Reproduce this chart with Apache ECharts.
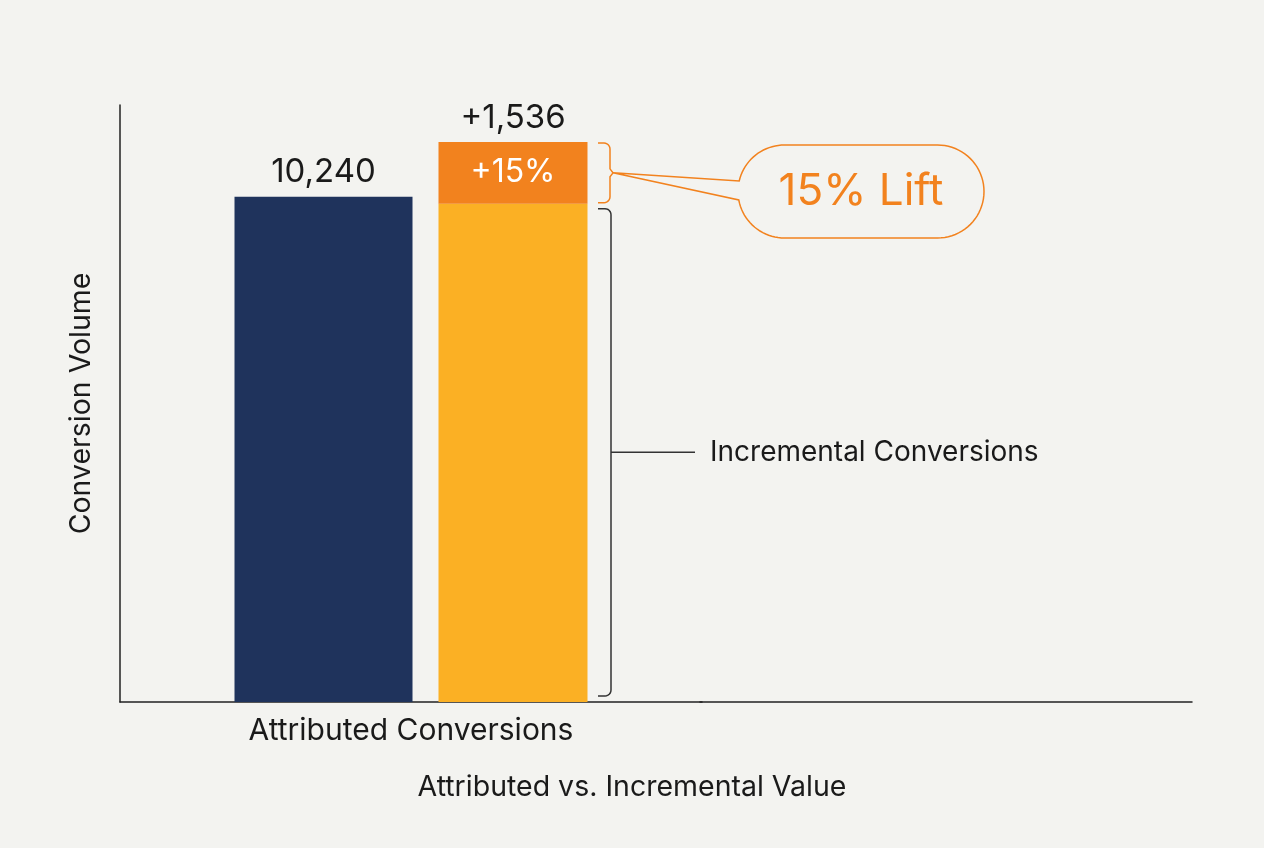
<!DOCTYPE html>
<html>
<head>
<meta charset="utf-8">
<script src="https://cdn.jsdelivr.net/npm/echarts@6/dist/echarts.min.js"></script>
<style>
  html, body { margin: 0; padding: 0; background: #f3f3f0; }
  #chart { width: 1264px; height: 848px; }
</style>
</head>
<body>
<div id="chart"></div>
<script>
// values
const categories = ['Attributed Conversions']
const attributedValues = [10240]
const incrementalBase = [10100]
const liftValues = [1250]
const attributedLabels = ['10,240']
const liftLabels = ['+15%']
const liftTotalLabels = ['+1,536']

const navy = '#1f335c'
const yellow = '#fbb024'
const orange = '#f2821e'
const ink = '#1a1a1a'
const font = 'Inter, Roboto, sans-serif'

const chart = echarts.init(document.getElementById('chart'))

const option = {
  animation: false,
  backgroundColor: '#f3f3f0',
  title: {
    text: 'Attributed vs. Incremental Value',
    left: 'center',
    top: 768,
    textStyle: { color: ink, fontSize: 28.5, fontWeight: 'normal', fontFamily: font }
  },
  grid: [
    { left: 120, top: 105, width: 582, height: 597 },
    { left: 700, top: 105, width: 492, height: 597 }
  ],
  xAxis: [
    {
      type: 'category',
      gridIndex: 0,
      data: categories,
      axisLine: { lineStyle: { color: '#222', width: 1.5 } },
      axisTick: { show: false },
      axisLabel: { color: ink, fontSize: 30, fontFamily: font, margin: 14 }
    },
    {
      type: 'category',
      gridIndex: 1,
      data: [''],
      axisLine: { lineStyle: { color: '#222', width: 1.5 } },
      axisTick: { show: false },
      axisLabel: { show: false }
    }
  ],
  yAxis: [
    {
      type: 'value',
      gridIndex: 0,
      min: 0,
      max: 12100,
      name: 'Conversion Volume',
      nameLocation: 'middle',
      nameGap: 24,
      nameTextStyle: { color: ink, fontSize: 28.5, fontFamily: font },
      axisLine: { show: true, lineStyle: { color: '#222', width: 1.5 } },
      axisTick: { show: false },
      axisLabel: { show: false },
      splitLine: { show: false }
    },
    { type: 'value', gridIndex: 1, show: false, min: 0, max: 12100 }
  ],
  series: [
    {
      name: 'Attributed',
      type: 'bar',
      data: attributedValues,
      barWidth: 178,
      barGap: '14.6%',
      itemStyle: { color: navy },
      label: {
        show: true,
        position: 'top',
        distance: 8,
        formatter: (p) => attributedLabels[p.dataIndex],
        color: ink,
        fontSize: 33,
        fontFamily: font
      }
    },
    {
      name: 'Incremental',
      type: 'bar',
      stack: 'inc',
      data: incrementalBase,
      barWidth: 149,
      barGap: '14.6%',
      itemStyle: { color: yellow }
    },
    {
      name: 'Lift',
      type: 'bar',
      stack: 'inc',
      data: liftValues,
      barWidth: 149,
      barGap: '14.6%',
      itemStyle: { color: orange },
      label: {
        show: true,
        position: 'inside',
        formatter: (p) => liftLabels[p.dataIndex],
        color: '#fff',
        fontSize: 32,
        fontFamily: font
      }
    },
    {
      name: 'LiftTotal',
      type: 'bar',
      stack: 'inc',
      data: liftValues.map(() => 0),
      barWidth: 149,
      barGap: '14.6%',
      itemStyle: { color: 'transparent' },
      label: {
        show: true,
        position: 'top',
        distance: 7,
        formatter: (p) => liftTotalLabels[p.dataIndex],
        color: ink,
        fontSize: 33,
        fontFamily: font
      }
    }
  ]
}

chart.setOption(option)

// annotation brackets, placed from the axis scale
const toY = (v) => chart.convertToPixel({ yAxisIndex: 0 }, v)
const y0 = toY(0)
const yBase = toY(incrementalBase[0])
const yTop = toY(incrementalBase[0] + liftValues[0])
const bx = 610
const yMidLift = (yBase + yTop) / 2
const bTop = yBase + 5
const bBot = y0 - 6
const bMid = (bTop + bBot) / 2

// points on a quarter/half arc
function arcPts(cx, cy, r, a0, a1, n) {
  const pts = []
  for (let i = 0; i <= n; i++) {
    const a = a0 + (a1 - a0) * i / n
    pts.push([cx + r * Math.cos(a), cy + r * Math.sin(a)])
  }
  return pts
}

// callout bubble (pill with tail)
const L = 738, R = 984, T = 145, B = 238, r = (B - T) / 2, cy = (T + B) / 2
const tailA = 181, tailB = 200
const angA = Math.PI + Math.asin((cy - tailA) / r)
const angB = Math.PI - Math.asin((tailB - cy) / r)
const bubblePts = [].concat(
  [[bx + 3, yMidLift]],
  arcPts(L + r, cy, r, angB, Math.PI / 2, 20),
  arcPts(R - r, cy, r, Math.PI / 2, -Math.PI / 2, 40),
  arcPts(L + r, cy, r, -Math.PI / 2, angA - 2 * Math.PI, 20)
)

// small rounded bracket corners
const c = 6
const orangeBracket = [].concat(
  [[598, yTop + 1]],
  arcPts(bx - c, yTop + 1 + c, c, -Math.PI / 2, 0, 6),
  [[bx, yMidLift - 4], [bx + 3, yMidLift], [bx, yMidLift + 4]],
  arcPts(bx - c, yBase - 1 - c, c, 0, Math.PI / 2, 6),
  [[598, yBase - 1]]
)
const blackBracket = [].concat(
  [[598, bTop]],
  arcPts(bx + 1 - c, bTop + c, c, -Math.PI / 2, 0, 6),
  arcPts(bx + 1 - c, bBot - c, c, 0, Math.PI / 2, 6),
  [[598, bBot]]
)

chart.setOption({
  graphic: [
    {
      type: 'polyline',
      shape: { points: orangeBracket },
      style: { fill: null, stroke: orange, lineWidth: 1.5 }
    },
    {
      type: 'polygon',
      shape: { points: bubblePts },
      style: { fill: 'rgba(243,243,240,0.6)', stroke: orange, lineWidth: 1.5 }
    },
    {
      type: 'text',
      x: (L + R) / 2,
      y: cy,
      style: {
        text: '15% Lift',
        fill: orange,
        fontSize: 44,
        fontFamily: font,
        align: 'center',
        verticalAlign: 'middle'
      }
    },
    {
      type: 'polyline',
      shape: { points: blackBracket },
      style: { fill: null, stroke: '#333', lineWidth: 1.5 }
    },
    {
      type: 'line',
      shape: { x1: bx + 1, y1: bMid, x2: 695, y2: bMid },
      style: { stroke: '#333', lineWidth: 1.5 }
    },
    {
      type: 'text',
      x: 710,
      y: bMid,
      style: {
        text: 'Incremental Conversions',
        fill: ink,
        fontSize: 28,
        fontFamily: font,
        align: 'left',
        verticalAlign: 'middle'
      }
    }
  ]
})
</script>
</body>
</html>
